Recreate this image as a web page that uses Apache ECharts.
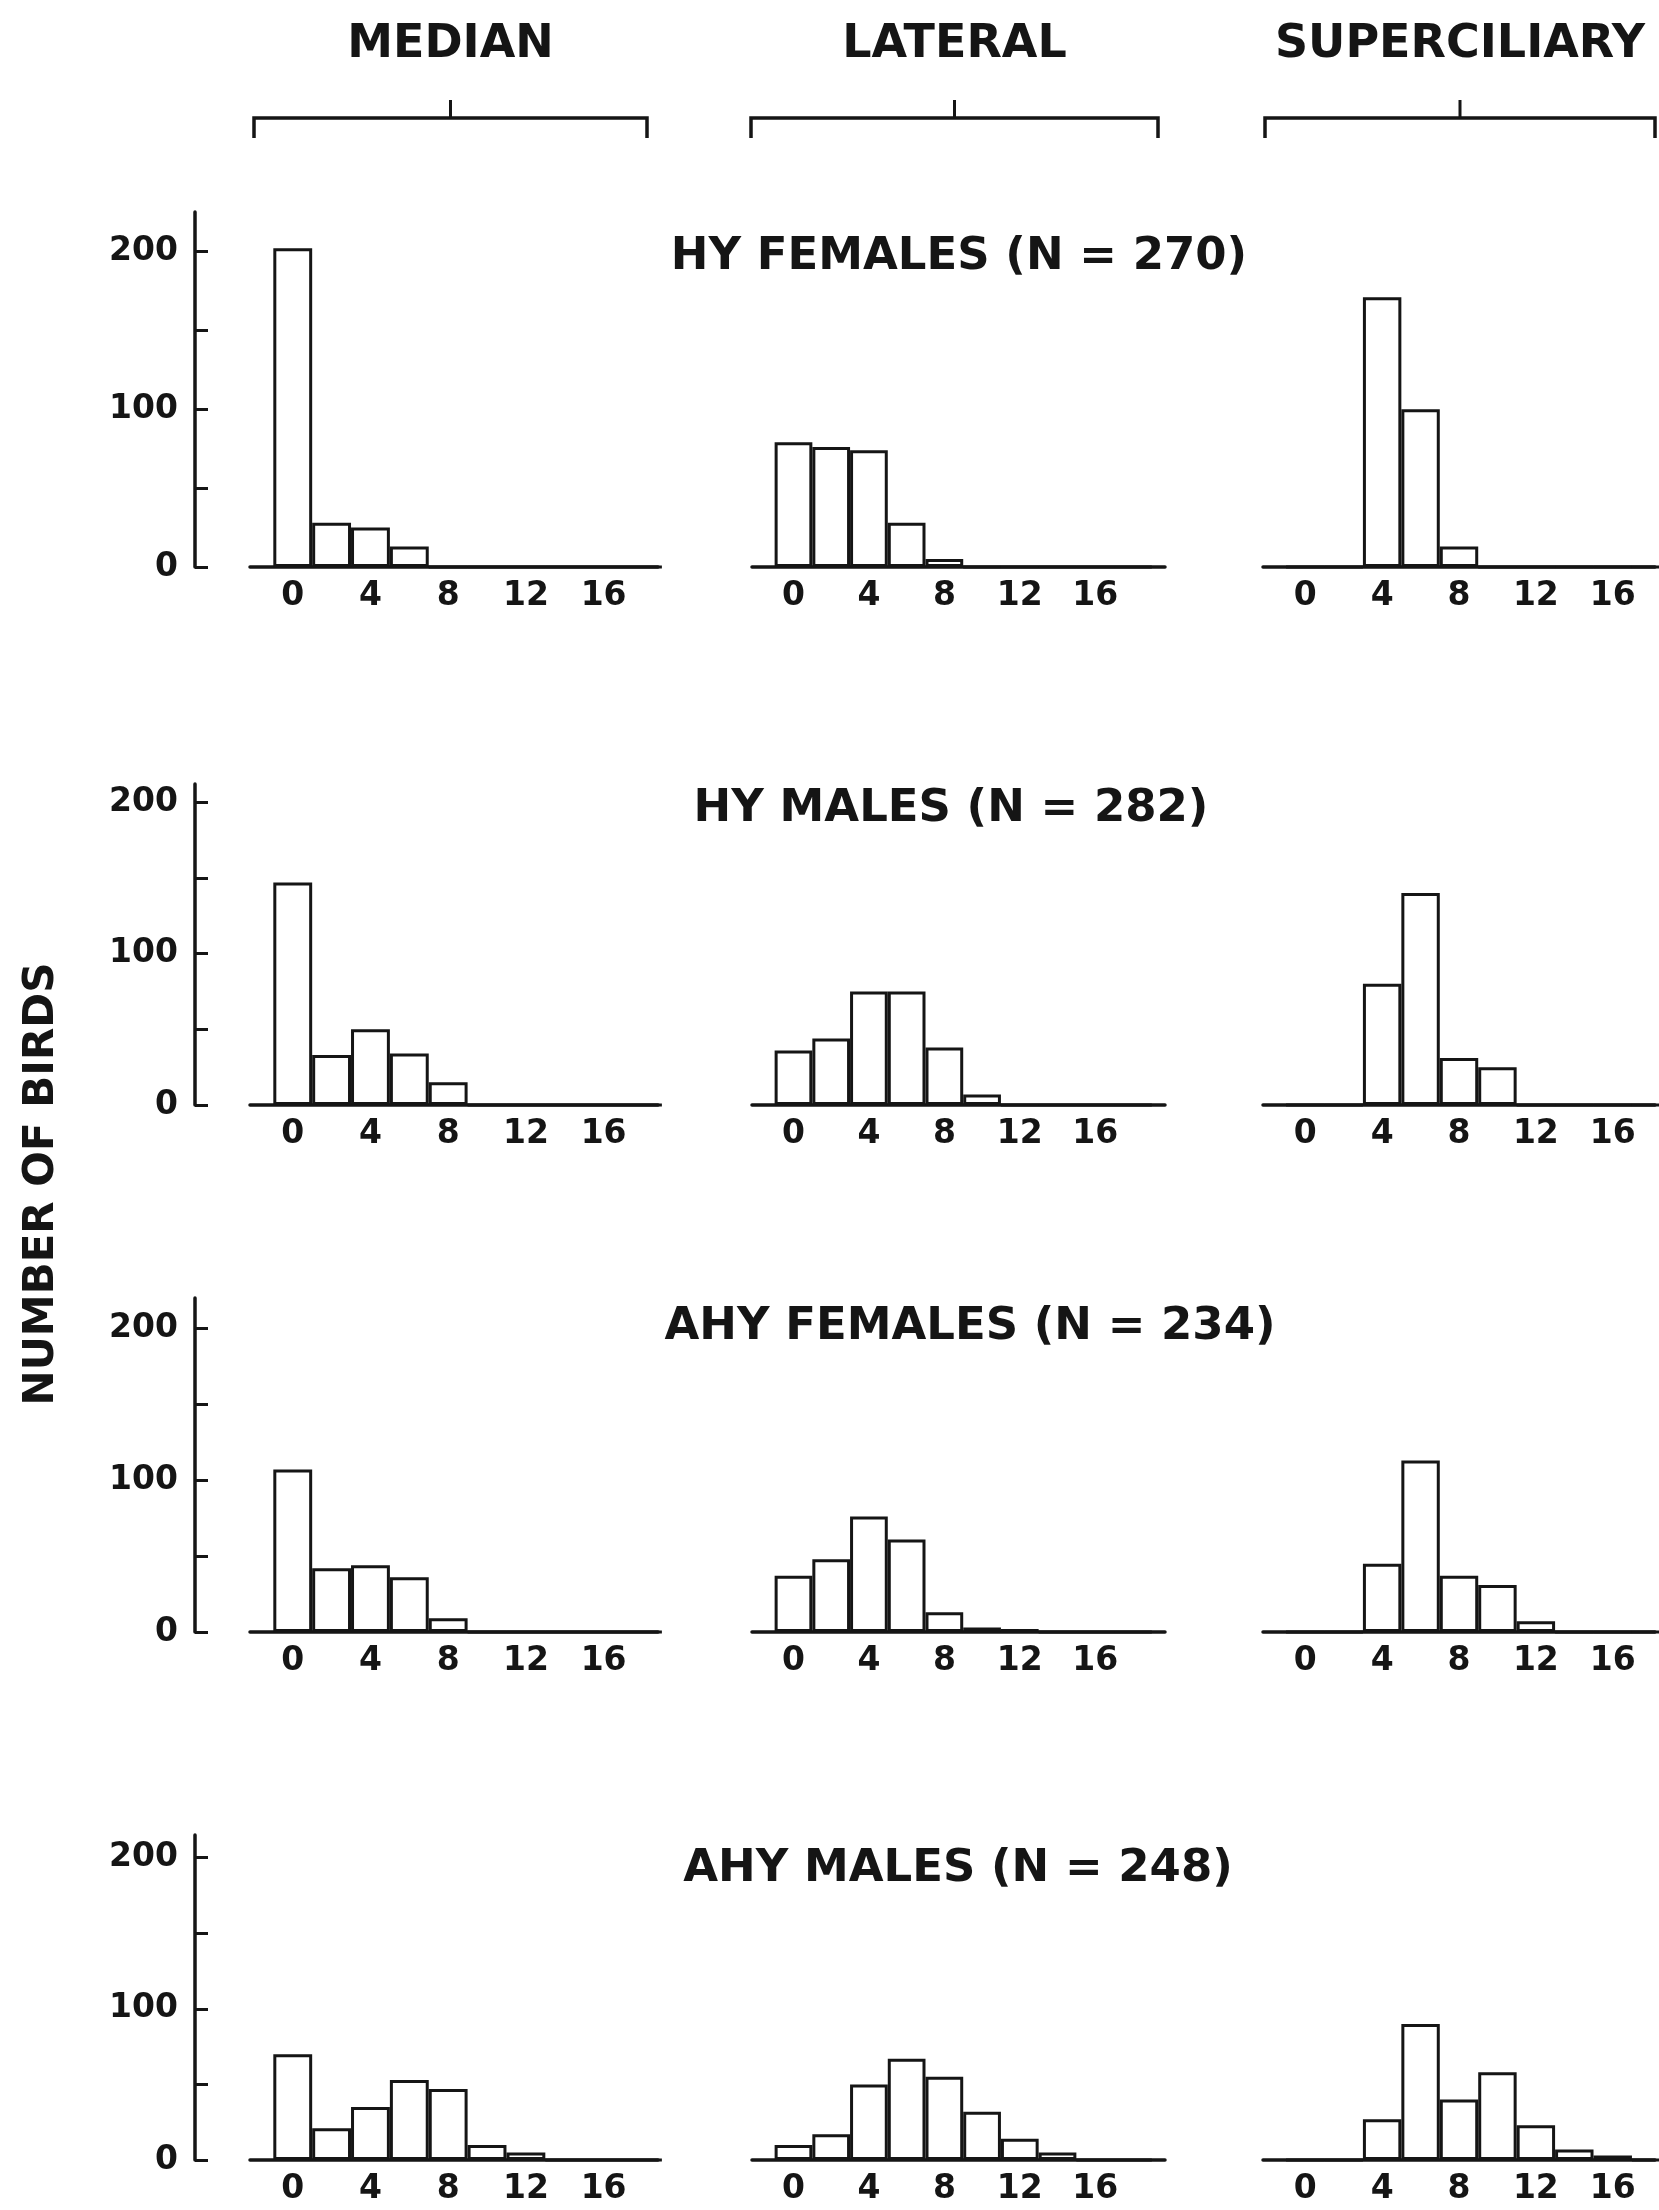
<!DOCTYPE html>
<html>
<head>
<meta charset="utf-8">
<title>Wing bar scores</title>
<script src="https://cdn.jsdelivr.net/npm/echarts@6.0.0/dist/echarts.min.js"></script>
<style>
  html, body { margin: 0; padding: 0; background: #fff; }
  #chart { width: 1659px; height: 2210px; }
</style>
</head>
<body>
<div id="chart"></div>
<script>
// score classes, one bar per class (bars centred on the even values)
var bins = [0, 2, 4, 6, 8, 10, 12, 14, 16, 18];
var xTickLabels = [0, 4, 8, 12, 16];
var yTicks = [0, 50, 100, 150, 200];
var yTickLabels = [0, 100, 200];

var columnNames = ['MEDIAN', 'LATERAL', 'SUPERCILIARY'];
var groupNames = ['HY FEMALES (N = 270)', 'HY MALES (N = 282)', 'AHY FEMALES (N = 234)', 'AHY MALES (N = 248)'];
var yTitle = 'NUMBER OF BIRDS';

// number of birds in each class
var hyFemMedian   = [202, 28, 25, 13, 0, 0, 0, 0, 0, 0];
var hyFemLateral  = [79, 76, 74, 28, 5, 0, 0, 0, 0, 0];
var hyFemSuper    = [0, 0, 171, 100, 13, 0, 0, 0, 0, 0];
var hyMalMedian   = [147, 33, 50, 34, 15, 0, 0, 0, 0, 0];
var hyMalLateral  = [36, 44, 75, 75, 38, 7, 0, 0, 0, 0];
var hyMalSuper    = [0, 0, 80, 140, 31, 25, 0, 0, 0, 0];
var ahyFemMedian  = [107, 42, 44, 36, 9, 0, 0, 0, 0, 0];
var ahyFemLateral = [37, 48, 76, 61, 13, 3, 2, 0, 0, 0];
var ahyFemSuper   = [0, 0, 45, 113, 37, 31, 7, 0, 0, 0];
var ahyMalMedian  = [70, 21, 35, 53, 47, 10, 5, 0, 0, 0];
var ahyMalLateral = [10, 17, 50, 67, 55, 32, 14, 5, 0, 0];
var ahyMalSuper   = [0, 0, 27, 90, 40, 58, 23, 7, 3, 0];

var panels = [
  [hyFemMedian, hyFemLateral, hyFemSuper],
  [hyMalMedian, hyMalLateral, hyMalSuper],
  [ahyFemMedian, ahyFemLateral, ahyFemSuper],
  [ahyMalMedian, ahyMalLateral, ahyMalSuper]
];

// layout (pixels)
var colLeft = [250, 752, 1263];
var colRight = [658, 1165, 1655];
var colXMax = [18.8, 19.7, 18.2];
var xMin = -2.2;
var rowBase = [567, 1105, 1632, 2160];
var rowTop = [212, 784, 1298, 1835];
var rowYMax = [225, 212, 220, 215];
var yAxisX = 195;
var groupX = [959, 951, 970, 958];
var groupY = [257, 809, 1327, 1869];
var bracketLeft = [254, 751, 1265];
var bracketRight = [647, 1158, 1655];
var bracketY = 118;

var FONT = '"DejaVu Sans", "Liberation Sans", sans-serif';
var INK = '#151515';

var chart = echarts.init(document.getElementById('chart'), null, { renderer: 'canvas' });

var grids = [], xAxes = [], yAxes = [], series = [];
for (var r = 0; r < panels.length; r++) {
  for (var c = 0; c < 3; c++) {
    var idx = grids.length;
    grids.push({
      left: colLeft[c],
      top: rowTop[r],
      width: colRight[c] - colLeft[c],
      height: rowBase[r] - rowTop[r],
      containLabel: false
    });
    xAxes.push({
      type: 'value',
      gridIndex: idx,
      min: xMin,
      max: colXMax[c],
      splitLine: { show: false },
      axisLine: { show: true, onZero: false, lineStyle: { color: INK, width: 3.5 } },
      axisTick: { show: false },
      axisLabel: {
        customValues: xTickLabels,
        color: INK,
        fontFamily: FONT,
        fontWeight: 'bold',
        fontSize: 33,
        margin: 13
      }
    });
    yAxes.push({
      type: 'value',
      gridIndex: idx,
      show: c === 0,
      min: 0,
      max: rowYMax[r],
      offset: colLeft[0] - yAxisX,
      splitLine: { show: false },
      axisLine: { show: true, onZero: false, lineStyle: { color: INK, width: 3.5 } },
      axisTick: {
        show: true,
        inside: true,
        length: 13,
        customValues: yTicks,
        lineStyle: { color: INK, width: 3 }
      },
      axisLabel: {
        customValues: yTickLabels,
        color: INK,
        fontFamily: FONT,
        fontWeight: 'bold',
        fontSize: 33,
        margin: 17
      }
    });
    series.push({
      type: 'bar',
      xAxisIndex: idx,
      yAxisIndex: idx,
      barWidth: '100%',
      silent: true,
      itemStyle: { color: '#fff', borderColor: INK, borderWidth: 3 },
      data: bins.map(function (b, k) { return [b, panels[r][c][k]]; })
    });
  }
}

// column headings, brackets, group titles and y title
var graphics = [];
for (var c2 = 0; c2 < 3; c2++) {
  var mid = (bracketLeft[c2] + bracketRight[c2]) / 2;
  graphics.push({
    type: 'text', x: mid, y: 45,
    style: { text: columnNames[c2], font: 'bold 46px ' + FONT, fill: INK,
      align: 'center', verticalAlign: 'middle', textAlign: 'center', textVerticalAlign: 'middle' }
  });
  graphics.push({
    type: 'polyline',
    shape: { points: [[bracketLeft[c2], bracketY + 20], [bracketLeft[c2], bracketY], [bracketRight[c2], bracketY], [bracketRight[c2], bracketY + 20]] },
    style: { stroke: INK, lineWidth: 3.5, fill: null }
  });
  graphics.push({
    type: 'line',
    shape: { x1: mid, y1: bracketY, x2: mid, y2: bracketY - 18 },
    style: { stroke: INK, lineWidth: 3 }
  });
}
for (var g = 0; g < groupNames.length; g++) {
  graphics.push({
    type: 'text', x: groupX[g], y: groupY[g],
    style: { text: groupNames[g], font: 'bold 45px ' + FONT, fill: INK,
      align: 'center', verticalAlign: 'middle', textAlign: 'center', textVerticalAlign: 'middle' }
  });
}
graphics.push({
  type: 'text', x: 42, y: 1184, rotation: Math.PI / 2,
  style: { text: yTitle, font: 'bold 42px ' + FONT, fill: INK,
    align: 'center', verticalAlign: 'middle', textAlign: 'center', textVerticalAlign: 'middle' }
});

chart.setOption({
  backgroundColor: '#fff',
  animation: false,
  grid: grids,
  xAxis: xAxes,
  yAxis: yAxes,
  series: series,
  graphic: { elements: graphics }
});
</script>
</body>
</html>
